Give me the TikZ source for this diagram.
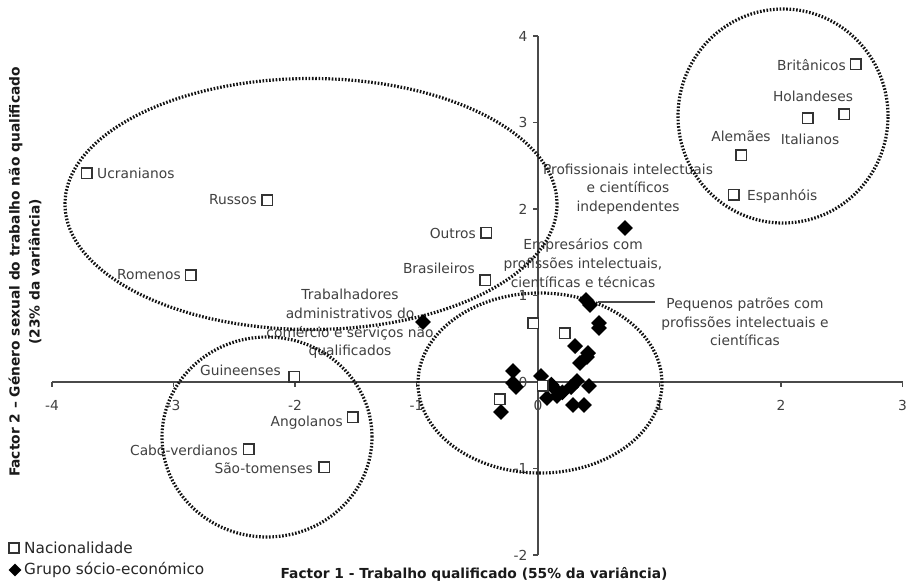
\documentclass[tikz,border=0pt]{standalone}
\usepackage{fontspec}
\setmainfont{DejaVu Sans}
\usetikzlibrary{shapes.geometric}
\definecolor{labelgray}{HTML}{404040}
\definecolor{axisgray}{HTML}{4A4A4A}
\definecolor{dotblack}{HTML}{121212}
\begin{document}
\begin{tikzpicture}[x=1pt,y=-1pt,
  nat/.style={rectangle, draw=black!80, fill=white, line width=1.5pt, minimum size=10.5pt, inner sep=0pt},
  grp/.style={diamond, fill=black, minimum size=16pt, inner sep=0pt},
  lbl/.style={text=labelgray, font=\fontsize{13.8}{18.6}\selectfont, inner sep=0pt, align=center},
  ticklbl/.style={text=labelgray, font=\fontsize{13.8}{16}\selectfont, inner sep=0pt},
  legtext/.style={text=black!85, font=\fontsize{15.3}{18}\selectfont, inner sep=0pt, anchor=west},
  axtitle/.style={text=black!90, font=\bfseries\fontsize{13.8}{20}\selectfont, inner sep=0pt, align=center},
  cluster/.style={draw=dotblack, line width=3.2pt, dash pattern=on 1.6pt off 1.7pt},
  axisline/.style={draw=axisgray, line width=1.4pt},
  leader/.style={draw=axisgray, line width=1.2pt}]
\useasboundingbox (0,0) rectangle (909,582);

% factor plane: origin and unit lengths of the two factors
\begin{scope}[shift={(538,382)}, x=121.5pt, y=86.5pt]
  % tick labels
  \foreach \v in {-4,...,3}
    \node[ticklbl] (xt\v) at (\v,-0.27) {\v};
  \foreach \v in {-2,...,4}
    \node[ticklbl, anchor=east] (yt\v) at (-0.085,\v) {\v};
  % axes and ticks
  \coordinate (xl) at (-4,0); \coordinate (xr) at (3,0);
  \coordinate (yb) at (0,-2); \coordinate (yt) at (0,4);
  \draw[axisline] (xl) -- (xr);
  \draw[axisline] (yb) -- (yt);
  \foreach \v in {-4,...,3}
    \draw[axisline] (\v,0) -- ++(0,-5pt);
  \foreach \v in {-2,...,4}
    \draw[axisline] (0,\v) -- ++(-5pt,0);
\end{scope}

% point labels: nationalities
\node[lbl, anchor=west] (lucr) at (97,173) {Ucranianos};
\node[lbl, anchor=east] (lrus) at (257,200) {Russos};
\node[lbl, anchor=east] (lrom) at (181,275) {Romenos};
\node[lbl, anchor=east] (lout) at (476,233) {Outros};
\node[lbl, anchor=east] (lbra) at (475,268) {Brasileiros};
\node[lbl, anchor=east] (lbri) at (846,65) {Britânicos};
\node[lbl] (lhol) at (813,96) {Holandeses};
\node[lbl] (lita) at (810,139) {Italianos};
\node[lbl] (lale) at (741,136) {Alemães};
\node[lbl, anchor=west] (lesp) at (747,196) {Espanhóis};
\node[lbl, anchor=east] (lgui) at (281,370) {Guineenses};
\node[lbl, anchor=east] (lang) at (343,423) {Angolanos};
\node[lbl, anchor=east] (lcab) at (238,450) {Cabo-verdianos};
\node[lbl, anchor=east] (lsao) at (313,468) {São-tomenses};

% point labels: socio-economic groups
\node[lbl] (lpii) at (628,189) {Profissionais intelectuais\\e científicos\\independentes};
\node[lbl] (lemp) at (583,263) {Empresários com\\profissões intelectuais,\\científicas e técnicas};
\node[lbl] (lpeq) at (745,322) {Pequenos patrões com\\profissões intelectuais e\\científicas};
\node[lbl] (ltra) at (350,324) {Trabalhadores\\administrativos do\\comércio e serviços não\\qualificados};

% dotted groupings
\draw[cluster] (311,204) ellipse [x radius=246pt, y radius=125.5pt];
\draw[cluster] (783,116) ellipse [x radius=105pt, y radius=107pt];
\draw[cluster] (267,437) ellipse [x radius=105pt, y radius=100pt];
\draw[cluster] (540,383) ellipse [x radius=122pt, y radius=90pt];

% leader line to the small employers label
\coordinate (leadA) at (598,302);
\coordinate (leadB) at (655,302);
\draw[leader] (leadA) -- (leadB);

\begin{scope}[shift={(538,382)}, x=121.5pt, y=86.5pt]
  % socio-economic groups
  \foreach \n/\px/\py in {pii/0.716/1.780, tra/-0.947/0.694,
      pp1/0.395/0.948, pp2/0.428/0.890,
      g1/0.502/0.682, g2/0.502/0.624, g3/0.305/0.416,
      g4/0.412/0.335, g5/0.403/0.289, g6/0.346/0.220,
      g7/-0.206/0.127, g8/-0.206/-0.012, g9/-0.181/-0.058,
      g10/0.025/0.069, g11/0.148/-0.092, g12/0.156/-0.162,
      g13/0.074/-0.185, g14/0.321/0.012, g15/0.272/-0.058,
      g16/0.420/-0.046, g17/0.288/-0.266, g18/0.379/-0.266,
      g19/-0.305/-0.347, g20/0.200/-0.120, g21/0.110/-0.030}
    \node[grp] (\n) at (\px,\py) {};
  % nationalities
  \foreach \n/\px/\py in {ucr/-3.712/2.416, rus/-2.230/2.104,
      rom/-2.856/1.237, out/-0.428/1.723, bra/-0.436/1.179,
      bri/2.617/3.676, hol/2.222/3.052, ita/2.519/3.098,
      ale/1.671/2.624, esp/1.613/2.162, gui/-2.008/0.058,
      ang/-1.523/-0.405, cab/-2.379/-0.775, sao/-1.761/-0.983,
      n1/-0.041/0.682, n2/0.222/0.566, n3/-0.313/-0.197,
      n4/0.041/-0.046}
    \node[nat] (\n) at (\px,\py) {};
\end{scope}

% axis titles
\node[axtitle] (xtitle) at (474,574) {Factor 1 - Trabalho qualificado (55\% da variância)};
\node[axtitle, rotate=90] (ytitle) at (25,272) {Factor 2 – Género sexual do trabalho não qualificado\\(23\% da variância)};

% legend
\node[nat, minimum size=10pt, line width=1.2pt] (legnat) at (14,548) {};
\node[legtext] (legnatt) at (24,548) {Nacionalidade};
\node[grp, minimum size=13pt] (leggrp) at (15,570) {};
\node[legtext] (leggrpt) at (24,570) {Grupo sócio-económico};
\end{tikzpicture}
\end{document}
